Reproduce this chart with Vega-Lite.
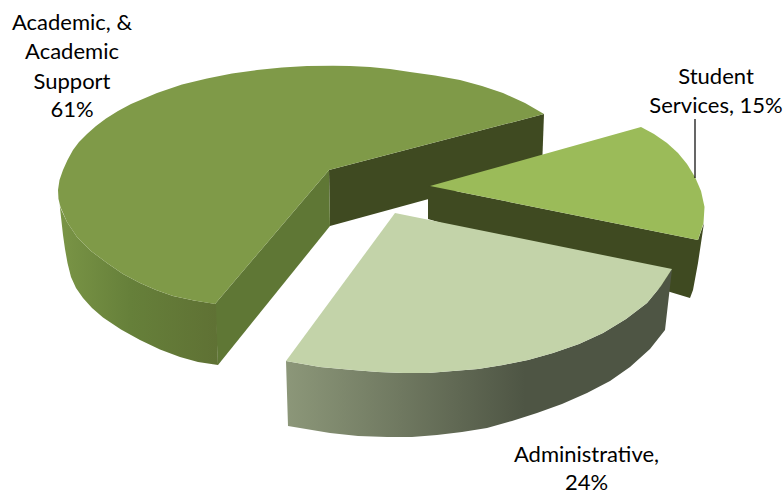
{
  "$schema": "https://vega.github.io/schema/vega-lite/v6.json",
  "width": 784,
  "height": 494,
  "padding": 0,
  "autosize": "none",
  "background": "white",
  "config": {"view": {"stroke": null}},
  "datasets": {
    "outlines": [
      {"face":"academic inner","x":329,"y":170},{"face":"academic inner","x":544,"y":114},{"face":"academic inner","x":542,"y":168},{"face":"academic inner","x":330,"y":226},
      {"face":"academic cut","x":215,"y":304},{"face":"academic cut","x":329,"y":170},{"face":"academic cut","x":330,"y":226},{"face":"academic cut","x":218,"y":365},
      {"face":"academic rim","x":58,"y":190},{"face":"academic rim","x":60,"y":207},{"face":"academic rim","x":67,"y":222},{"face":"academic rim","x":77,"y":237},{"face":"academic rim","x":91,"y":251},{"face":"academic rim","x":107,"y":263},{"face":"academic rim","x":123,"y":274},{"face":"academic rim","x":140,"y":283},{"face":"academic rim","x":156,"y":290},{"face":"academic rim","x":173,"y":296},{"face":"academic rim","x":194,"y":300.5},{"face":"academic rim","x":216,"y":304},{"face":"academic rim","x":218,"y":365},{"face":"academic rim","x":198,"y":362},{"face":"academic rim","x":180,"y":357},{"face":"academic rim","x":160,"y":349.5},{"face":"academic rim","x":140,"y":340},{"face":"academic rim","x":121,"y":329.5},{"face":"academic rim","x":103,"y":317.5},{"face":"academic rim","x":92,"y":308},{"face":"academic rim","x":83,"y":298},{"face":"academic rim","x":76,"y":288},{"face":"academic rim","x":71,"y":277},{"face":"academic rim","x":67.5,"y":263},{"face":"academic rim","x":65,"y":249},{"face":"academic rim","x":63,"y":235},
      {"face":"academic top","x":544,"y":114},{"face":"academic top","x":525,"y":103},{"face":"academic top","x":503,"y":93},{"face":"academic top","x":482,"y":86},{"face":"academic top","x":460,"y":80},{"face":"academic top","x":435,"y":75.5},{"face":"academic top","x":410,"y":72},{"face":"academic top","x":390,"y":69},{"face":"academic top","x":370,"y":67},{"face":"academic top","x":350,"y":66},{"face":"academic top","x":333,"y":65.7},{"face":"academic top","x":307,"y":66},{"face":"academic top","x":282,"y":67.5},{"face":"academic top","x":257,"y":70},{"face":"academic top","x":232,"y":73.5},{"face":"academic top","x":207,"y":78.5},{"face":"academic top","x":182,"y":84.5},{"face":"academic top","x":157,"y":93},{"face":"academic top","x":131,"y":104},{"face":"academic top","x":118,"y":111},{"face":"academic top","x":106,"y":118.5},{"face":"academic top","x":96,"y":126},{"face":"academic top","x":87,"y":134},{"face":"academic top","x":79,"y":142},{"face":"academic top","x":73,"y":150},{"face":"academic top","x":67.5,"y":160},{"face":"academic top","x":63,"y":170},{"face":"academic top","x":59.5,"y":180},{"face":"academic top","x":58,"y":190},{"face":"academic top","x":58.5,"y":199},{"face":"academic top","x":60.5,"y":207},{"face":"academic top","x":67,"y":222},{"face":"academic top","x":77,"y":237},{"face":"academic top","x":91,"y":251},{"face":"academic top","x":107,"y":263},{"face":"academic top","x":123,"y":274},{"face":"academic top","x":140,"y":283},{"face":"academic top","x":156,"y":290},{"face":"academic top","x":173,"y":296},{"face":"academic top","x":194,"y":300.5},{"face":"academic top","x":215,"y":304},{"face":"academic top","x":329,"y":170},
      {"face":"student wall","x":430,"y":186},{"face":"student wall","x":698,"y":240},{"face":"student wall","x":704,"y":223},{"face":"student wall","x":698,"y":263},{"face":"student wall","x":693,"y":290},{"face":"student wall","x":690,"y":298},{"face":"student wall","x":428,"y":219},{"face":"student wall","x":428,"y":187},
      {"face":"student top","x":430,"y":186},{"face":"student top","x":641,"y":127},{"face":"student top","x":654,"y":134},{"face":"student top","x":667,"y":143},{"face":"student top","x":678,"y":153},{"face":"student top","x":687,"y":164},{"face":"student top","x":695,"y":177},{"face":"student top","x":701,"y":191},{"face":"student top","x":704.5,"y":207},{"face":"student top","x":703.5,"y":223},{"face":"student top","x":698,"y":240},
      {"face":"admin rim","x":672,"y":269},{"face":"admin rim","x":661,"y":286},{"face":"admin rim","x":647,"y":303},{"face":"admin rim","x":626,"y":319},{"face":"admin rim","x":603,"y":333},{"face":"admin rim","x":579,"y":344},{"face":"admin rim","x":553,"y":353},{"face":"admin rim","x":528,"y":360},{"face":"admin rim","x":503,"y":365},{"face":"admin rim","x":478,"y":369},{"face":"admin rim","x":453,"y":371},{"face":"admin rim","x":428,"y":373},{"face":"admin rim","x":403,"y":373},{"face":"admin rim","x":378,"y":372},{"face":"admin rim","x":353,"y":370},{"face":"admin rim","x":320,"y":367},{"face":"admin rim","x":286,"y":361},{"face":"admin rim","x":288,"y":426},{"face":"admin rim","x":330,"y":433},{"face":"admin rim","x":358,"y":436},{"face":"admin rim","x":387,"y":437},{"face":"admin rim","x":412,"y":437},{"face":"admin rim","x":437,"y":435},{"face":"admin rim","x":462,"y":432},{"face":"admin rim","x":487,"y":428},{"face":"admin rim","x":512,"y":421},{"face":"admin rim","x":537,"y":413},{"face":"admin rim","x":562,"y":404},{"face":"admin rim","x":587,"y":393},{"face":"admin rim","x":610,"y":381},{"face":"admin rim","x":630,"y":367},{"face":"admin rim","x":650,"y":349},{"face":"admin rim","x":665,"y":330},
      {"face":"admin top","x":395,"y":213},{"face":"admin top","x":672,"y":269},{"face":"admin top","x":661,"y":286},{"face":"admin top","x":647,"y":303},{"face":"admin top","x":626,"y":319},{"face":"admin top","x":603,"y":333},{"face":"admin top","x":579,"y":344},{"face":"admin top","x":553,"y":353},{"face":"admin top","x":528,"y":360},{"face":"admin top","x":503,"y":365},{"face":"admin top","x":478,"y":369},{"face":"admin top","x":453,"y":371},{"face":"admin top","x":428,"y":373},{"face":"admin top","x":403,"y":373},{"face":"admin top","x":378,"y":372},{"face":"admin top","x":353,"y":370},{"face":"admin top","x":320,"y":367},{"face":"admin top","x":286,"y":361},
      {"face":"leader","x":695,"y":119},{"face":"leader","x":695,"y":178}
    ],
    "labels": [
      {"line":"Academic, &","x":72,"y":23},
      {"line":"Academic","x":72,"y":52},
      {"line":"Support","x":72,"y":82},
      {"line":"61%","x":72,"y":110},
      {"line":"Student","x":716,"y":77},
      {"line":"Services, 15%","x":716,"y":106},
      {"line":"Administrative,","x":586.5,"y":455},
      {"line":"24%","x":586.5,"y":483}
    ]
  },
  "layer": [
    {
      "data": {"name": "outlines"},
      "transform": [{"window": [{"op": "row_number", "as": "seq"}]}],
      "encoding": {
        "x": {"field": "x", "type": "quantitative", "scale": {"domain": [0, 784], "nice": false, "zero": false}, "axis": null},
        "y": {"field": "y", "type": "quantitative", "scale": {"domain": [494, 0], "nice": false, "zero": false}, "axis": null},
        "order": {"field": "seq", "type": "quantitative"}
      },
      "layer": [
        {"transform": [{"filter": "datum.face === 'academic inner'"}], "mark": {"type": "line", "fill": "#3f4a21", "strokeWidth": 0}},
        {"transform": [{"filter": "datum.face === 'academic cut'"}], "mark": {"type": "line", "fill": "#5f7735", "strokeWidth": 0}},
        {"transform": [{"filter": "datum.face === 'academic rim'"}], "mark": {"type": "line", "strokeWidth": 0, "fill": {"gradient": "linear", "x1": 0, "y1": 0, "x2": 1, "y2": 0, "stops": [{"offset": 0, "color": "#7a9546"}, {"offset": 0.45, "color": "#66803a"}, {"offset": 1, "color": "#5f7134"}]}}},
        {"transform": [{"filter": "datum.face === 'academic top'"}], "mark": {"type": "line", "fill": "#7f9a48", "strokeWidth": 0}},
        {"transform": [{"filter": "datum.face === 'student wall'"}], "mark": {"type": "line", "fill": "#3f4a21", "strokeWidth": 0}},
        {"transform": [{"filter": "datum.face === 'student top'"}], "mark": {"type": "line", "fill": "#9bbb59", "strokeWidth": 0}},
        {"transform": [{"filter": "datum.face === 'admin rim'"}], "mark": {"type": "line", "strokeWidth": 0, "fill": {"gradient": "linear", "x1": 0, "y1": 0, "x2": 1, "y2": 0, "stops": [{"offset": 0, "color": "#8c9779"}, {"offset": 0.3, "color": "#6f7860"}, {"offset": 0.62, "color": "#4e5544"}, {"offset": 1, "color": "#4e5544"}]}}},
        {"transform": [{"filter": "datum.face === 'admin top'"}], "mark": {"type": "line", "fill": "#c3d3a9", "strokeWidth": 0}},
        {"transform": [{"filter": "datum.face === 'leader'"}], "mark": {"type": "line", "color": "#000000", "strokeWidth": 1.2}}
      ]
    },
    {
      "data": {"name": "labels"},
      "mark": {"type": "text", "font": "Lato", "fontSize": 22, "color": "#000000", "align": "center", "baseline": "middle"},
      "encoding": {
        "x": {"field": "x", "type": "quantitative", "scale": {"domain": [0, 784], "nice": false, "zero": false}, "axis": null},
        "y": {"field": "y", "type": "quantitative", "scale": {"domain": [494, 0], "nice": false, "zero": false}, "axis": null},
        "text": {"field": "line", "type": "nominal"}
      }
    }
  ]
}
